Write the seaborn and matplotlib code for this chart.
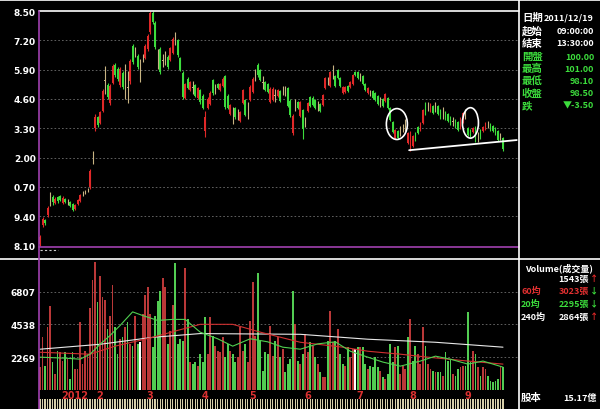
import numpy as np
import pandas as pd
import seaborn as sns
import matplotlib.pyplot as plt
from matplotlib.lines import Line2D
from matplotlib.patches import Ellipse

# daily candles (price axis shows 108.10 .. 118.50)
open_ = [108.18, 109.02, 109.24, 109.46, 110.20, 110.26, 109.99, 110.26, 110.30, 109.99,
         110.17, 110.04, 110.04, 109.95, 109.73, 109.95, 110.08, 110.42, 110.48, 110.57,
         110.70, 112.02, 113.32, 113.80, 113.54, 114.07, 115.40, 115.22, 114.42, 115.31,
         116.10, 115.93, 115.22, 115.75, 115.30, 115.10, 115.40, 116.95, 116.68, 116.50,
         116.00, 116.42, 116.42, 116.82, 117.55, 118.40, 117.95, 116.40, 116.80, 116.30,
         116.40, 116.48, 116.33, 116.65, 117.25, 117.20, 116.40, 115.75, 114.65, 115.50,
         115.00, 115.10, 115.20, 114.65, 114.98, 114.75, 113.20, 114.22, 114.40, 115.42,
         115.04, 115.28, 115.00, 115.18, 115.60, 114.75, 113.93, 113.85, 114.18, 113.90,
         113.63, 114.42, 114.55, 114.10, 114.56, 114.92, 115.66, 116.12, 115.88, 115.33,
         115.35, 115.26, 114.48, 114.56, 114.75, 114.73, 114.95, 114.98, 114.95, 115.08,
         114.52, 113.10, 114.30, 114.47, 113.85, 114.10, 113.58, 114.07, 114.68, 114.65,
         114.55, 114.30, 114.38, 114.33, 115.08, 115.40, 115.18, 115.80, 115.60, 115.88,
         115.52, 114.86, 114.90, 115.18, 115.12, 115.26, 115.80, 115.80, 115.57, 115.62,
         115.27, 114.86, 114.86, 114.96, 114.87, 114.73, 114.47, 114.60, 114.51, 114.64,
         114.20, 113.58, 112.88, 113.18, 113.18, 113.31, 113.44, 112.66, 112.40, 112.52,
         113.10, 113.36, 113.22, 113.54, 114.42, 114.27, 114.06, 114.29, 114.24, 114.29,
         114.12, 113.98, 114.03, 113.94, 113.81, 113.60, 113.67, 113.58, 113.31, 113.58,
         113.93, 113.32, 113.23, 113.12, 113.36, 112.92, 113.23, 113.17, 113.27, 113.47,
         113.50, 113.41, 113.32, 113.18, 112.93, 112.88]
high = [108.58, 109.37, 109.28, 109.86, 110.48, 110.35, 110.26, 110.30, 110.35, 110.30,
        110.21, 110.17, 110.08, 109.99, 109.95, 110.17, 110.39, 110.53, 110.57, 110.66,
        111.50, 112.30, 113.94, 113.85, 114.07, 115.04, 116.06, 115.31, 115.26, 116.15,
        116.20, 116.02, 116.02, 115.84, 116.15, 115.84, 116.37, 117.04, 116.90, 116.59,
        116.37, 116.59, 117.04, 117.48, 118.50, 118.50, 118.06, 116.82, 116.90, 116.59,
        116.73, 116.55, 116.90, 117.35, 117.57, 117.26, 116.46, 115.84, 115.31, 115.57,
        115.40, 115.40, 115.26, 115.13, 115.04, 114.82, 114.07, 114.69, 114.95, 115.49,
        115.26, 115.31, 115.31, 115.57, 115.66, 114.82, 114.38, 114.25, 114.25, 114.16,
        114.07, 115.04, 114.60, 114.47, 115.22, 115.57, 115.93, 116.20, 115.93, 115.62,
        115.40, 115.31, 115.13, 115.13, 115.04, 115.04, 115.00, 115.18, 115.18, 115.13,
        114.60, 113.94, 114.60, 114.51, 114.51, 114.16, 113.80, 114.47, 114.73, 114.73,
        114.60, 114.51, 114.42, 114.82, 115.57, 115.57, 115.84, 116.11, 115.66, 115.93,
        115.57, 115.18, 115.18, 115.22, 115.40, 115.71, 115.84, 115.84, 115.75, 115.66,
        115.31, 115.13, 115.00, 115.00, 114.91, 114.78, 114.69, 114.64, 114.87, 114.69,
        114.25, 113.63, 113.27, 113.23, 113.40, 113.49, 113.71, 113.14, 113.18, 113.01,
        113.14, 113.40, 113.58, 114.16, 114.47, 114.47, 114.42, 114.33, 114.47, 114.33,
        114.16, 114.25, 114.07, 113.98, 113.85, 113.80, 113.71, 113.63, 113.80, 114.02,
        114.16, 113.36, 113.27, 113.36, 113.40, 113.14, 113.27, 113.40, 113.58, 113.63,
        113.54, 113.45, 113.36, 113.23, 113.09, 112.92]
low = [108.09, 108.93, 109.02, 109.37, 109.86, 109.90, 109.95, 109.99, 110.08, 109.95,
       109.99, 109.90, 109.82, 109.64, 109.68, 109.90, 110.04, 110.30, 110.39, 110.48,
       110.61, 111.72, 113.18, 113.36, 113.49, 114.02, 114.82, 114.60, 114.33, 115.26,
       115.57, 115.40, 115.13, 115.04, 114.60, 114.42, 115.26, 116.15, 116.46, 115.93,
       115.35, 116.24, 116.37, 116.73, 117.48, 117.92, 116.82, 115.93, 115.71, 116.02,
       116.11, 115.93, 116.28, 116.59, 117.00, 116.46, 115.84, 114.60, 114.60, 115.04,
       114.95, 114.82, 114.69, 114.60, 114.38, 114.16, 112.92, 114.16, 114.33, 114.78,
       114.82, 115.04, 114.95, 115.13, 114.16, 114.16, 113.89, 113.49, 113.71, 113.67,
       113.58, 114.38, 113.85, 113.71, 114.51, 114.87, 115.40, 115.57, 115.40, 115.04,
       114.95, 114.87, 114.42, 114.51, 114.47, 114.69, 114.47, 114.78, 114.73, 114.25,
       113.80, 113.00, 114.07, 114.16, 113.80, 112.83, 113.36, 114.02, 114.25, 114.29,
       114.16, 114.07, 114.02, 114.29, 115.04, 115.22, 115.13, 115.49, 115.13, 115.49,
       115.13, 114.82, 114.87, 114.91, 115.09, 115.22, 115.62, 115.49, 115.40, 115.22,
       114.95, 114.82, 114.73, 114.60, 114.51, 114.33, 114.25, 114.25, 114.47, 114.16,
       113.63, 113.10, 112.83, 112.83, 112.96, 113.14, 113.18, 112.61, 112.30, 112.47,
       112.74, 113.05, 113.18, 113.49, 113.89, 114.07, 114.02, 113.94, 114.02, 113.89,
       113.71, 113.71, 113.67, 113.58, 113.45, 113.40, 113.32, 113.18, 113.27, 113.54,
       113.71, 112.96, 112.92, 113.09, 112.70, 112.70, 112.83, 113.14, 113.23, 113.32,
       113.18, 113.14, 113.01, 112.74, 112.78, 112.30]
close = [108.49, 109.28, 109.11, 109.77, 110.22, 110.04, 110.17, 110.08, 110.13, 110.21,
         110.04, 110.05, 109.86, 109.70, 109.90, 110.13, 110.35, 110.43, 110.49, 110.57,
         111.41, 112.03, 113.80, 113.45, 114.02, 114.96, 115.42, 114.69, 115.18, 116.06,
         115.66, 115.49, 115.93, 115.13, 115.32, 115.12, 116.28, 116.24, 116.70, 116.02,
         116.02, 116.43, 116.95, 117.40, 118.40, 118.00, 116.90, 116.41, 115.80, 116.31,
         116.42, 116.00, 116.84, 117.28, 117.26, 116.55, 115.90, 114.70, 115.25, 115.10,
         115.35, 115.11, 114.75, 115.08, 114.45, 114.22, 113.80, 114.62, 114.88, 114.85,
         115.05, 115.08, 115.26, 115.50, 114.25, 114.22, 114.33, 113.86, 113.78, 113.91,
         114.02, 114.98, 113.90, 114.11, 115.15, 115.50, 115.67, 115.65, 115.45, 115.34,
         115.00, 114.92, 115.05, 115.06, 114.76, 114.98, 114.52, 114.99, 114.96, 114.30,
         113.88, 113.85, 114.31, 114.20, 114.45, 113.25, 113.59, 114.42, 114.30, 114.35,
         114.20, 114.31, 114.06, 114.78, 115.52, 115.41, 115.78, 115.81, 115.18, 115.55,
         115.18, 115.13, 115.14, 114.95, 115.36, 115.66, 115.66, 115.53, 115.58, 115.26,
         115.00, 115.09, 114.87, 114.65, 114.56, 114.38, 114.48, 114.29, 114.82, 114.20,
         113.68, 113.15, 113.22, 112.88, 113.19, 113.32, 113.45, 113.09, 113.10, 112.96,
         112.78, 113.09, 113.54, 114.11, 113.94, 114.28, 114.38, 113.98, 114.25, 113.93,
         113.76, 113.99, 113.71, 113.62, 113.49, 113.61, 113.36, 113.23, 113.75, 113.97,
         113.94, 113.00, 112.96, 113.32, 112.90, 112.93, 112.88, 113.36, 113.54, 113.48,
         113.23, 113.18, 113.05, 112.80, 112.94, 112.40]
volume = [1580, 3640, 1650, 4330, 5780, 1925, 1100, 2680, 2610, 2000,
          2610, 2130, 760, 2610, 1440, 1440, 4680, 1790, 2680, 2475,
          5700, 7630, 8870, 6050, 7900, 6460, 6250, 4190, 5090, 7290,
          4330, 2475, 3510, 3640, 4330, 4680, 3160, 3030, 5090, 3160,
          3300, 5230, 6600, 7150, 5230, 2960, 5090, 6120, 6810, 7770,
          7150, 3160, 4060, 5910, 8800, 3160, 3510, 3370, 8460, 4880,
          1925, 1790, 1925, 1650, 2475,
          1925, 5020, 2475, 5020, 3710, 3030, 2680, 2610, 3640, 2270,
          3160, 2680, 2475, 1925, 2270, 4330, 2680, 3160, 1925, 4750,
          7500, 3710, 8120, 3370, 1300, 2610, 2475, 4400, 2340, 3370,
          3640, 2270, 2820, 1240, 1790, 2130, 6810, 4540, 2000, 1790,
          2475, 3850, 2610, 3300, 3030, 2270, 1790, 1240, 900, 900,
          3370, 5430, 3300, 3370, 4190, 2475, 1790, 1650, 2960, 2270,
          2820, 2820, 2960, 2960, 2960, 1790, 1440, 1650, 1580, 2270,
          1580, 1300, 900, 760, 1100, 3160, 1925, 2960, 3030, 1100,
          1650, 1440, 3640, 4880, 2000, 3030, 2475, 1790, 4330, 3030,
          1790, 1440, 1300, 1240, 1240, 1240, 970, 2610, 2000, 2130,
          1100, 970, 1440, 1580, 1650, 1650, 5360, 1925, 2680, 2475,
          1580, 970, 1580, 1440, 970, 620, 550, 620, 760, 1650,
          1580]

# volume moving averages, read at a few bars
ma20_idx = [0, 10, 16, 20, 24, 28, 32, 37, 41, 47, 53, 58, 64, 71, 77, 84, 91, 97, 104,
            111, 118, 124, 131, 137, 144, 152, 158, 164, 171, 177, 185]
ma20_val = [2270, 2200, 2130, 2475, 3160, 3770, 4460, 5400, 5150, 4810, 4880, 4880, 4000,
            3540, 3030, 3540, 3330, 2960, 2820, 3190, 3330, 2680, 2270, 1930, 1650, 2000,
            2340, 2130, 1790, 2000, 1580]
ma60_idx = [0, 20, 30, 45, 55, 64, 77, 88, 104, 121, 131, 144, 155, 171, 185]
ma60_val = [2610, 2475, 3030, 3640, 4120, 4540, 4540, 4000, 3300, 2960, 2680, 2475, 2270,
            2000, 1790]
ma240_idx = [0, 24, 45, 64, 104, 131, 158, 185]
ma240_val = [2820, 3160, 3640, 3900, 3850, 3510, 3300, 2960]

price_ticks = [108.10, 109.40, 110.70, 112.00, 113.30, 114.60, 115.90, 117.20, 118.50]
price_labels = ['8.10', '9.40', '0.70', '2.00', '3.30', '4.60', '5.90', '7.20', '8.50']
vol_ticks = [2269, 4538, 6807]
month_idx = [9, 23, 43, 65, 84, 106, 127, 148, 170]
month_labels = ['2012', '2', '3', '4', '5', '6', '7', '8', '9']

info_labels = ['日期', '起始', '結束', '開盤', '最高', '最低', '收盤', '跌']
info_values = ['2011/12/19', '09:00:00', '13:30:00', '100.00', '101.00', '98.10', '98.50', '▼-3.50']

sns.set_theme(style='dark', rc={'axes.facecolor': 'black', 'figure.facecolor': 'black',
                                'savefig.facecolor': 'black'})
plt.rcParams['font.family'] = ['DejaVu Sans', 'Noto Sans CJK TC']
CJK = ['Noto Sans CJK TC', 'DejaVu Sans']

RED = '#e02828'
GREEN = '#3cdc3c'
TAN = '#c8b482'
PURPLE = '#a040b0'
W, H = 600, 410


def fx(px):
    return px / W


def fy(py):
    return 1 - py / H


df = pd.DataFrame({'idx': np.arange(len(close)), 'open': open_, 'high': high,
                   'low': low, 'close': close, 'volume': volume})
diff = df['close'] - df['open']
df['dir'] = np.where(diff.abs() < 0.03, 'flat', np.where(diff > 0, 'up', 'down'))
# volume bars follow the change against the previous close
chg = df['close'].diff().fillna(0.1)
df['vdir'] = np.where(chg.abs() < 0.005, 'flat', np.where(chg > 0, 'up', 'down'))

fig = plt.figure(figsize=(6, 4.1), dpi=100)
left, right = 38.5, 518.5
ax = fig.add_axes([fx(left), fy(248), fx(right) - fx(left), fy(12) - fy(248)])
axv = fig.add_axes([fx(left), fy(391), fx(right) - fx(left), fy(259.5) - fy(391)])
axs = fig.add_axes([fx(left), 0, fx(right) - fx(left), 10 / H])
xlim = (-0.6, 191.2)

# price candles
cols = df['dir'].map({'up': RED, 'down': GREEN, 'flat': TAN})
ax.vlines(df['idx'], df['low'], df['high'], colors=cols, lw=0.8, zorder=3)
ax.bar(df['idx'], diff.abs(), bottom=df[['open', 'close']].min(axis=1), width=0.7,
       color=cols, linewidth=0, zorder=3)
for t in price_ticks[1:-1]:
    ax.axhline(t, color='#6e6e6e', lw=0.6, ls=(0, (2, 2.5)), zorder=1)
ax.set_xlim(xlim)
ax.set_ylim(108.04, 118.50)
ax.set_xticks([])
ax.set_yticks(price_ticks, price_labels)
ax.tick_params(axis='y', colors='white', labelsize=6.5, length=0, pad=2)
for lab in ax.get_yticklabels():
    lab.set_fontweight('bold')

# support line and the two circles
ax.plot([147.5, 190.5], [112.33, 112.78], color='white', lw=1.3, zorder=4)
for cx, cy, w, h in [(142.6, 113.49, 8.4, 1.37), (172.0, 113.54, 6.4, 1.35)]:
    ax.add_patch(Ellipse((cx, cy), w, h, fill=False, ec='white', lw=1.2, zorder=4))

# volume
sns.barplot(data=df, x='idx', y='volume', hue='vdir', native_scale=True, dodge=False,
            palette={'up': '#d02222', 'down': '#3ee03e', 'flat': 'white'},
            width=0.72, errorbar=None, legend=False, linewidth=0, ax=axv)
sns.lineplot(x=ma240_idx, y=ma240_val, color='#e8e8e8', lw=0.8, ax=axv)
sns.lineplot(x=ma60_idx, y=ma60_val, color='#d03030', lw=0.8, ax=axv)
sns.lineplot(x=ma20_idx, y=ma20_val, color='#50d050', lw=0.8, ax=axv)
for t in vol_ticks:
    axv.axhline(t, color='#6e6e6e', lw=0.6, ls=(0, (2, 2.5)), zorder=0)
axv.set_xlim(xlim)
axv.set_ylim(0, 9090)
axv.set_xlabel('')
axv.set_ylabel('')
axv.set_xticks([])
axv.set_yticks(vol_ticks, [str(t) for t in vol_ticks])
axv.tick_params(axis='y', colors='white', labelsize=6.5, length=0, pad=2)
for lab in axv.get_yticklabels():
    lab.set_fontweight('bold')
for i, m in zip(month_idx, month_labels):
    axv.text(i - 0.5, -0.038, m, transform=axv.get_xaxis_transform(), color='#d83030',
             fontsize=7, fontweight='bold', ha='left', va='center')

# date tick strip
axs.bar(df['idx'], 1, width=0.5, color='#d8d0aa', linewidth=0)
axs.set_xlim(xlim)
axs.set_ylim(0, 1)
axs.axis('off')

for a in (ax, axv):
    for s in a.spines.values():
        s.set_visible(False)

# frame lines
frame = [((0, 600), (0.5, 0.5), 'white'), ((left, right), (12, 12), 'white'),
         ((left, right), (248, 248), PURPLE), ((0, 600), (259.5, 259.5), 'white'),
         ((left, left), (12, 410), PURPLE), ((right, right), (0, 410), 'white')]
for xs, ys, c in frame:
    fig.add_artist(Line2D([fx(x) for x in xs], [fy(y) for y in ys], color=c, lw=1.2))
fig.add_artist(Line2D([fx(40), fx(58)], [fy(250.5), fy(250.5)], color='#cccccc', lw=0.8,
                      ls=(0, (2, 2))))

# info panel
row_y = [18, 31, 44, 57, 69, 82, 94, 106]
for k, (lab, val, y) in enumerate(zip(info_labels, info_values, row_y)):
    c = 'white' if k < 3 else '#3cdc3c'
    fig.text(fx(522), fy(y), lab, color=c, fontsize=7.5, family=CJK, fontweight='bold',
             ha='left', va='center')
    fig.text(fx(594), fy(y), val, color=c, fontsize=6.5, family=CJK, fontweight='bold',
             ha='right', va='center')

fig.text(fx(559), fy(268), 'Volume(成交量)', color='white', fontsize=6.5, family=CJK,
         fontweight='bold', ha='center', va='center')
vol_rows = [('', '1543張', 'white', '↑', RED, 279),
            ('60均', '3023張', '#e03030', '↓', GREEN, 291),
            ('20均', '2295張', '#3cdc3c', '↓', GREEN, 304),
            ('240均', '2864張', 'white', '↑', RED, 317)]
for lab, val, c, arrow, ac, y in vol_rows:
    fig.text(fx(521), fy(y), lab, color=c, fontsize=6.5, family=CJK, fontweight='bold',
             ha='left', va='center')
    fig.text(fx(589), fy(y), val, color=c, fontsize=6.5, family=CJK, fontweight='bold',
             ha='right', va='center')
    fig.text(fx(590), fy(y), arrow, color=ac, fontsize=6, family=CJK, fontweight='bold',
             ha='left', va='center')
fig.text(fx(521), fy(398), '股本', color='white', fontsize=7.5, family=CJK,
         fontweight='bold', ha='left', va='center')
fig.text(fx(597), fy(398), '15.17億', color='white', fontsize=6.5, family=CJK,
         fontweight='bold', ha='right', va='center')

fig.savefig('out.png', dpi=100, facecolor='black')
